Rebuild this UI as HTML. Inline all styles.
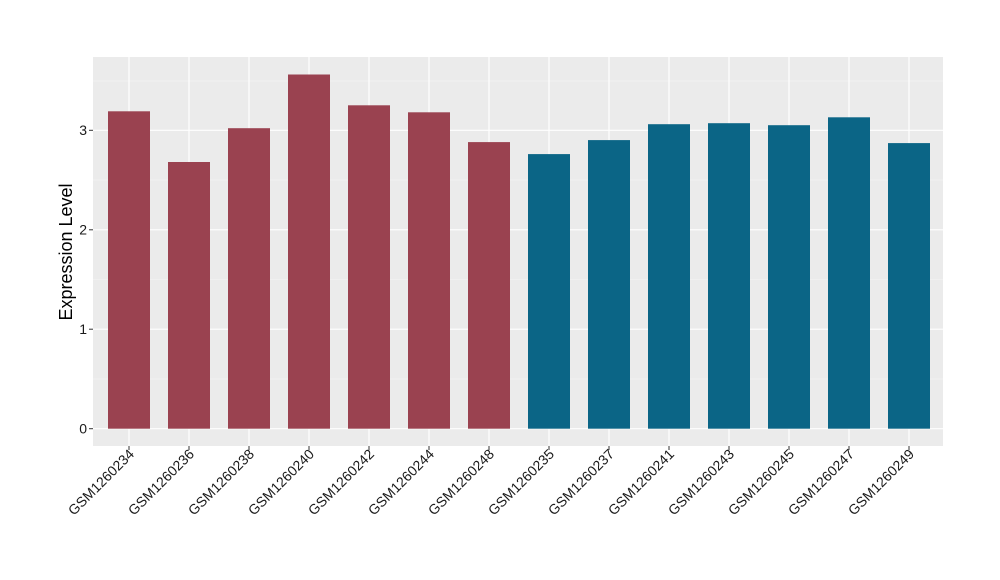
<!DOCTYPE html>
<html><head><meta charset="utf-8"><style>body{margin:0;background:#fff}svg{display:block}text{font-family:"Liberation Sans",sans-serif}</style></head><body>
<svg width="1000" height="580" xmlns="http://www.w3.org/2000/svg">
<rect x="93" y="57" width="850" height="389" fill="#ebebeb"/>
<g stroke="#f5f5f5" stroke-width="0.6">
<line x1="93" x2="943" y1="379" y2="379"/><line x1="93" x2="943" y1="279.5" y2="279.5"/><line x1="93" x2="943" y1="180" y2="180"/><line x1="93" x2="943" y1="81" y2="81"/>
</g>
<g stroke="#fff" stroke-width="1.2">
<line x1="93" x2="943" y1="428.7" y2="428.7"/><line x1="93" x2="943" y1="329.2" y2="329.2"/><line x1="93" x2="943" y1="229.8" y2="229.8"/><line x1="93" x2="943" y1="130.3" y2="130.3"/>
<line x1="129" x2="129" y1="57" y2="446"/><line x1="189" x2="189" y1="57" y2="446"/><line x1="249" x2="249" y1="57" y2="446"/><line x1="309" x2="309" y1="57" y2="446"/><line x1="369" x2="369" y1="57" y2="446"/><line x1="429" x2="429" y1="57" y2="446"/><line x1="489" x2="489" y1="57" y2="446"/><line x1="549" x2="549" y1="57" y2="446"/><line x1="609" x2="609" y1="57" y2="446"/><line x1="669" x2="669" y1="57" y2="446"/><line x1="729" x2="729" y1="57" y2="446"/><line x1="789" x2="789" y1="57" y2="446"/><line x1="849" x2="849" y1="57" y2="446"/><line x1="909" x2="909" y1="57" y2="446"/>
</g>
<g fill="#9a4250">
<rect x="108" y="111.3" width="42" height="317.4"/>
<rect x="168" y="162.0" width="42" height="266.7"/>
<rect x="228" y="128.2" width="42" height="300.5"/>
<rect x="288" y="74.5" width="42" height="354.2"/>
<rect x="348" y="105.3" width="42" height="323.4"/>
<rect x="408" y="112.3" width="42" height="316.4"/>
<rect x="468" y="142.1" width="42" height="286.6"/>
</g>
<g fill="#0b6586">
<rect x="528" y="154.1" width="42" height="274.6"/>
<rect x="588" y="140.1" width="42" height="288.6"/>
<rect x="648" y="124.2" width="42" height="304.5"/>
<rect x="708" y="123.2" width="42" height="305.5"/>
<rect x="768" y="125.2" width="42" height="303.5"/>
<rect x="828" y="117.3" width="42" height="311.4"/>
<rect x="888" y="143.1" width="42" height="285.6"/>
</g>
<g font-size="14" fill="#1a1a1a" text-anchor="end">
<text x="87" y="433.5">0</text><text x="87" y="334">1</text><text x="87" y="234.5">2</text><text x="87" y="135">3</text>
</g>
<g stroke="#333" stroke-width="1">
<line x1="89" x2="93" y1="428.7" y2="428.7"/><line x1="89" x2="93" y1="329.2" y2="329.2"/><line x1="89" x2="93" y1="229.8" y2="229.8"/><line x1="89" x2="93" y1="130.3" y2="130.3"/>
<line x1="129" x2="129" y1="446" y2="450"/><line x1="189" x2="189" y1="446" y2="450"/><line x1="249" x2="249" y1="446" y2="450"/><line x1="309" x2="309" y1="446" y2="450"/><line x1="369" x2="369" y1="446" y2="450"/><line x1="429" x2="429" y1="446" y2="450"/><line x1="489" x2="489" y1="446" y2="450"/><line x1="549" x2="549" y1="446" y2="450"/><line x1="609" x2="609" y1="446" y2="450"/><line x1="669" x2="669" y1="446" y2="450"/><line x1="729" x2="729" y1="446" y2="450"/><line x1="789" x2="789" y1="446" y2="450"/><line x1="849" x2="849" y1="446" y2="450"/><line x1="909" x2="909" y1="446" y2="450"/>
</g>
<text transform="translate(72,252) rotate(-90)" font-size="18" text-anchor="middle">Expression Level</text>
<g font-size="14" fill="#1a1a1a" text-anchor="end">
<text transform="translate(135,455) rotate(-45)">GSM1260234</text>
<text transform="translate(195,455) rotate(-45)">GSM1260236</text>
<text transform="translate(255,455) rotate(-45)">GSM1260238</text>
<text transform="translate(315,455) rotate(-45)">GSM1260240</text>
<text transform="translate(375,455) rotate(-45)">GSM1260242</text>
<text transform="translate(435,455) rotate(-45)">GSM1260244</text>
<text transform="translate(495,455) rotate(-45)">GSM1260248</text>
<text transform="translate(555,455) rotate(-45)">GSM1260235</text>
<text transform="translate(615,455) rotate(-45)">GSM1260237</text>
<text transform="translate(675,455) rotate(-45)">GSM1260241</text>
<text transform="translate(735,455) rotate(-45)">GSM1260243</text>
<text transform="translate(795,455) rotate(-45)">GSM1260245</text>
<text transform="translate(855,455) rotate(-45)">GSM1260247</text>
<text transform="translate(915,455) rotate(-45)">GSM1260249</text>
</g>
</svg>
</body></html>
